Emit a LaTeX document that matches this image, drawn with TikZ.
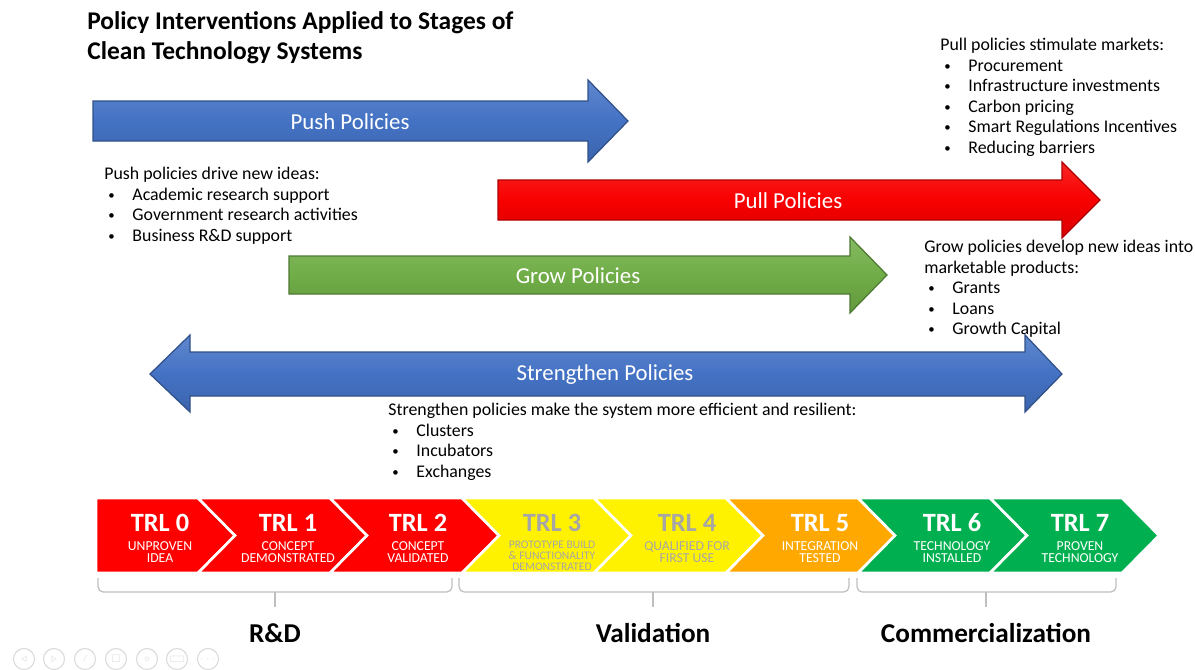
\documentclass[tikz,border=0pt]{standalone}
\usepackage{amssymb}
\usepackage{fontspec}
\setmainfont{Carlito}
\usepackage{xcolor}
\usepackage{tikz}
\usetikzlibrary{positioning}
\definecolor{PP_BLUE}{HTML}{4472C4}
\definecolor{PP_RED}{HTML}{F80000}
\definecolor{PP_GREEN}{HTML}{70AD47}
\definecolor{TRL_RED}{HTML}{FF0000}
\definecolor{TRL_YELLOW}{HTML}{FFF200}
\definecolor{TRL_ORANGE}{HTML}{FFA800}
\definecolor{TRL_GREEN}{HTML}{00B050}
\definecolor{TRL_GREYTXT}{HTML}{A6A6A6}
\definecolor{PP_BRACE}{HTML}{BFBFBF}
\definecolor{PP_NAV}{HTML}{DADADA}
\newcommand{\blt}{\hspace*{2.3pt}\makebox[13.7pt][l]{\raisebox{0.12ex}{\scalebox{0.72}{\textbullet}}}}
\tikzset{
  blockarrow/.style={
    draw=#1!70!black, line width=0.7pt, line join=miter,
    top color=#1!85!white, bottom color=#1!88!black, middle color=#1},
  arrowlabel/.style={
    text=white, inner sep=0pt, font=\fontsize{13}{15}\selectfont},
  note/.style={
    anchor=north west, inner sep=0pt, align=left,
    font=\fontsize{10.15}{11.65}\selectfont},
  title/.style={
    anchor=north west, inner sep=0pt, align=left,
    font=\fontsize{14.5}{17.3}\selectfont\bfseries},
  chevron/.style={fill=#1, draw=white, line width=1.5pt, line join=miter},
  trlnum/.style={
    inner sep=0pt, text=#1, font=\fontsize{15}{16}\selectfont\bfseries},
  trlsub/.style={
    inner sep=0pt, text=#1, align=center,
    font=\fontsize{7.8}{6.9}\selectfont},
  brace/.style={draw=PP_BRACE, line width=0.7pt, rounded corners=3pt},
  stage/.style={inner sep=0pt, font=\fontsize{15.5}{17}\selectfont\bfseries},
  navbtn/.style={
    circle, draw=PP_NAV, line width=0.6pt, minimum size=0.42cm,
    inner sep=0pt, text=PP_NAV, font=\tiny},
}
\begin{document}
\begin{tikzpicture}[x=0.02cm, y=-0.02cm]

  \useasboundingbox[fill=white] (0,0) rectangle (1195,669);

  % title
  \node[title] (title) at (87,11)
    {Policy Interventions Applied to Stages of\\Clean Technology Systems};

  % policy arrows
  \draw[blockarrow=PP_BLUE] (93,101) -- (588,101) -- (588,80) -- (628,121)
    -- (588,162) -- (588,141) -- (93,141) -- cycle;
  \node[arrowlabel] (pushlbl) at (350,122) {Push Policies};

  \draw[blockarrow=PP_RED] (498,180) -- (1062,180) -- (1062,162) -- (1100,200)
    -- (1062,238) -- (1062,220) -- (498,220) -- cycle;
  \node[arrowlabel] (pulllbl) at (788,201) {Pull Policies};

  \draw[blockarrow=PP_GREEN] (289,256) -- (850,256) -- (850,237) -- (887,275)
    -- (850,313) -- (850,294) -- (289,294) -- cycle;
  \node[arrowlabel] (growlbl) at (578,276) {Grow Policies};

  \draw[blockarrow=PP_BLUE] (150,374) -- (190,335) -- (190,352) -- (1025,352)
    -- (1025,335) -- (1062,374) -- (1025,412) -- (1025,396) -- (190,396)
    -- (190,412) -- cycle;
  \node[arrowlabel] (strlbl) at (605,375) {Strengthen Policies};

  % notes
  \node[note] (pullnote) at (940,38)
    {Pull policies stimulate markets:\\
     \blt Procurement\\
     \blt Infrastructure investments\\
     \blt Carbon pricing\\
     \blt Smart Regulations Incentives\\
     \blt Reducing barriers};

  \node[note] (pushnote) at (104,167)
    {Push policies drive new ideas:\\
     \blt Academic research support\\
     \blt Government research activities\\
     \blt Business R\&D support};

  \node[note] (grownote) at (924,240)
    {Grow policies develop new ideas into\\
     marketable products:\\
     \blt Grants\\
     \blt Loans\\
     \blt Growth Capital};

  \node[note] (strnote) at (388,403)
    {Strengthen policies make the system more efficient and resilient:\\
     \blt Clusters\\
     \blt Incubators\\
     \blt Exchanges};

  % TRL chevrons
  \draw[chevron=TRL_RED] (96,498) -- (198,498) -- (235,535.5) -- (198,573)
    -- (96,573) -- cycle;
  \draw[chevron=TRL_RED] (198,498) -- ++(132,0) -- ++(37,37.5) -- ++(-37,37.5)
    -- ++(-132,0) -- ++(37,-37.5) -- cycle;
  \draw[chevron=TRL_RED] (330,498) -- ++(132,0) -- ++(37,37.5) -- ++(-37,37.5)
    -- ++(-132,0) -- ++(37,-37.5) -- cycle;
  \draw[chevron=TRL_YELLOW] (462,498) -- ++(132,0) -- ++(37,37.5) -- ++(-37,37.5)
    -- ++(-132,0) -- ++(37,-37.5) -- cycle;
  \draw[chevron=TRL_YELLOW] (594,498) -- ++(132,0) -- ++(37,37.5) -- ++(-37,37.5)
    -- ++(-132,0) -- ++(37,-37.5) -- cycle;
  \draw[chevron=TRL_ORANGE] (726,498) -- ++(132,0) -- ++(37,37.5) -- ++(-37,37.5)
    -- ++(-132,0) -- ++(37,-37.5) -- cycle;
  \draw[chevron=TRL_GREEN] (858,498) -- ++(132,0) -- ++(37,37.5) -- ++(-37,37.5)
    -- ++(-132,0) -- ++(37,-37.5) -- cycle;
  \draw[chevron=TRL_GREEN] (990,498) -- ++(132,0) -- ++(37,37.5) -- ++(-37,37.5)
    -- ++(-132,0) -- ++(37,-37.5) -- cycle;

  \node[trlnum=white] (trl0) at (160,523) {TRL 0};
  \node[trlsub=white] (trl0s) at (160,552) {UNPROVEN\\IDEA};
  \node[trlnum=white] (trl1) at (288,523) {TRL 1};
  \node[trlsub=white] (trl1s) at (288,552) {CONCEPT\\DEMONSTRATED};
  \node[trlnum=white] (trl2) at (418,523) {TRL 2};
  \node[trlsub=white] (trl2s) at (418,552) {CONCEPT\\VALIDATED};
  \node[trlnum=TRL_GREYTXT] (trl3) at (552,523) {TRL 3};
  \node[trlsub=TRL_GREYTXT, font=\fontsize{6.6}{6.2}\selectfont] (trl3s) at (552,556)
    {PROTOTYPE BUILD\\\& FUNCTIONALITY\\DEMONSTRATED};
  \node[trlnum=TRL_GREYTXT] (trl4) at (687,523) {TRL 4};
  \node[trlsub=TRL_GREYTXT] (trl4s) at (687,552) {QUALIFIED FOR\\FIRST USE};
  \node[trlnum=white] (trl5) at (820,523) {TRL 5};
  \node[trlsub=white] (trl5s) at (820,552) {INTEGRATION\\TESTED};
  \node[trlnum=white] (trl6) at (952,523) {TRL 6};
  \node[trlsub=white] (trl6s) at (952,552) {TECHNOLOGY\\INSTALLED};
  \node[trlnum=white] (trl7) at (1080,523) {TRL 7};
  \node[trlsub=white] (trl7s) at (1080,552) {PROVEN\\TECHNOLOGY};

  % stage brackets
  \node[stage] (rd) at (275,633) {R\&D};
  \node[stage] (valid) at (653,633) {Validation};
  \node[stage] (comm) at (986,633) {Commercialization};

  \draw[brace] (98,578) -- (98,592) -- (452,592) -- (452,578);
  \draw[PP_BRACE, line width=0.7pt] (275,592) -- (275,607);
  \draw[brace] (459,578) -- (459,592) -- (849,592) -- (849,578);
  \draw[PP_BRACE, line width=0.7pt] (653,592) -- (653,607);
  \draw[brace] (857,578) -- (857,592) -- (1116,592) -- (1116,578);
  \draw[PP_BRACE, line width=0.7pt] (986,592) -- (986,607);

  % slide show buttons
  \node[navbtn] (nav1) at (24,659) {$\triangleleft$};
  \node[navbtn] (nav2) at (54,659) {$\triangleright$};
  \node[navbtn] (nav3) at (85,659) {/};
  \node[navbtn] (nav4) at (116,659) {$\square$};
  \node[navbtn] (nav5) at (147,659) {$\circ$};
  \node[navbtn] (nav6) at (177,659) {$\sqsubset\!\sqsupset$};
  \node[navbtn] (nav7) at (208,659) {$\cdots$};

\end{tikzpicture}
\end{document}
